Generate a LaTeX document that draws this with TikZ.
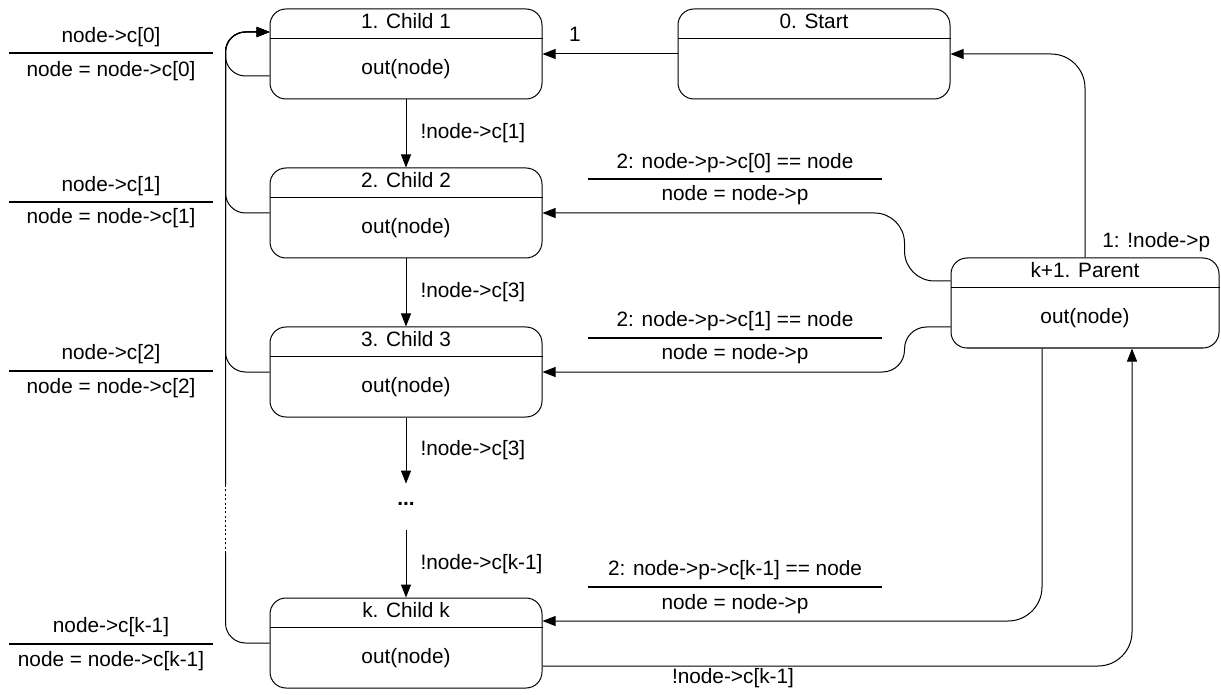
\documentclass[tikz,border=0pt]{standalone}
\usepackage{fontspec}
\setmainfont{Liberation Sans}
\usetikzlibrary{arrows.meta,calc}
\tikzstyle{state}=[rectangle,rounded corners=8pt,draw=black,line width=0.5pt,
  minimum width=136pt,minimum height=45pt,inner sep=0pt]
\tikzstyle{txt}=[inner sep=0pt,text height=7.6pt,text depth=2.3pt]
\tikzstyle{bar}=[line width=0.9pt]
\tikzstyle{trans}=[line width=0.5pt,-{Triangle[length=6.5pt,width=5pt]}]
\tikzstyle{none}=[]

\begin{document}
\begin{tikzpicture}[x=0.5pt, y=-0.5pt, font=\fontsize{10.4pt}{12pt}\selectfont]
    \useasboundingbox (0, 0) rectangle (1221, 695);
    % states
    \node [style=state] (c1) at (406, 54) {};
    \node [style=state] (c2) at (406, 213) {};
    \node [style=state] (c3) at (406, 372) {};
    \node [style=state] (ck) at (406, 643) {};
    \node [style=state] (start) at (814, 54) {};
    \node [style=state, minimum width=134pt] (parent) at (1085, 303) {};
    \node [style=none, inner sep=0pt, minimum height=23pt] (dots) at (406, 507) {\raisebox{3pt}{\textbf{...}}};
    % titles and bodies
    \node [style=txt] (c1t) at ($(c1.north)+(0, 15)$) {1. Child 1};
    \node [style=txt] (c1b) at ($(c1.north)+(0, 61)$) {out(node)};
    \node [style=txt] (c2t) at ($(c2.north)+(0, 15)$) {2. Child 2};
    \node [style=txt] (c2b) at ($(c2.north)+(0, 61)$) {out(node)};
    \node [style=txt] (c3t) at ($(c3.north)+(0, 15)$) {3. Child 3};
    \node [style=txt] (c3b) at ($(c3.north)+(0, 61)$) {out(node)};
    \node [style=txt] (ckt) at ($(ck.north)+(0, 15)$) {k. Child k};
    \node [style=txt] (ckb) at ($(ck.north)+(0, 61)$) {out(node)};
    \node [style=txt] (startt) at ($(start.north)+(0, 15)$) {0. Start};
    \node [style=txt] (parentt) at ($(parent.north)+(0, 15)$) {k+1. Parent};
    \node [style=txt] (parentb) at ($(parent.north)+(0, 61)$) {out(node)};
    \draw [line width=0.5pt] ($(c1.north west)+(0, 30)$) to ($(c1.north east)+(0, 30)$);
    \draw [line width=0.5pt] ($(c2.north west)+(0, 30)$) to ($(c2.north east)+(0, 30)$);
    \draw [line width=0.5pt] ($(c3.north west)+(0, 30)$) to ($(c3.north east)+(0, 30)$);
    \draw [line width=0.5pt] ($(ck.north west)+(0, 30)$) to ($(ck.north east)+(0, 30)$);
    \draw [line width=0.5pt] ($(start.north west)+(0, 30)$) to ($(start.north east)+(0, 30)$);
    \draw [line width=0.5pt] ($(parent.north west)+(0, 30)$) to ($(parent.north east)+(0, 30)$);
    % down the children
    \draw [style=trans] (c1.south) to node [style=txt, right=7pt] (e1) {!node->c[1]} (c2.north);
    \draw [style=trans] (c2.south) to node [style=txt, right=7pt] (e2) {!node->c[3]} (c3.north);
    \draw [style=trans] (c3.south) to node [style=txt, right=7pt] (e3) {!node->c[3]} (dots.north);
    \draw [style=trans] (dots.south) to node [style=txt, right=7pt] (e4) {!node->c[k-1]} (ck.north);
    % start
    \draw [style=trans] (start.west) to node [style=txt, above=3.5pt, pos=0.76] (e0) {1} (c1.east);
    \draw [style=trans, rounded corners=17pt] (parent.north) |- (start.east);
    \node [style=txt, anchor=west] (e5) at (1102, 242) {1: !node->p};
    % back up to the parent
    \draw [style=trans, rounded corners=15pt] ($(parent.west)+(0, -22)$) -- ++(-46, 0) |- (c2.east);
    \draw [style=trans, rounded corners=11pt] ($(parent.west)+(0, 24)$) -- ++(-46, 0) |- (c3.east);
    \draw [style=trans, rounded corners=17pt] ($(parent.south)+(-43, 0)$) |- ($(ck.east)+(0, -22)$);
    \draw [style=trans, rounded corners=17pt] ($(ck.east)+(0, 23)$) -| ($(parent.south)+(47, 0)$);
    \node [style=txt] (e6) at (733, 678) {!node->c[k-1]};
    \node [style=txt] (p0a) at (735, 163) {2: node->p->c[0] == node};
    \draw [style=bar] (588, 179) to (882, 179);
    \node [style=txt] (p0b) at (735, 195) {node = node->p};
    \node [style=txt] (p1a) at (735, 321) {2: node->p->c[1] == node};
    \draw [style=bar] (588, 338) to (882, 338);
    \node [style=txt] (p1b) at (735, 354) {node = node->p};
    \node [style=txt] (pka) at (735, 570) {2: node->p->c[k-1] == node};
    \draw [style=bar] (588, 587) to (882, 587);
    \node [style=txt] (pkb) at (735, 604) {node = node->p};
    % down to a child
    \draw [style=trans, rounded corners=10pt] ($(c1.west)+(0, 22)$) -- ++(-44, 0) |- ($(c1.west)+(0, -22)$);
    \draw [style=trans, rounded corners=10pt] (c2.west) -- ++(-44, 0) |- ($(c1.west)+(0, -22)$);
    \draw [style=trans, rounded corners=10pt] (c3.west) -- ++(-44, 0) |- ($(c1.west)+(0, -22)$);
    \draw [line width=0.5pt, rounded corners=10pt] (ck.west) -- ++(-44, 0) -- ++(0, -90) coordinate (gapa);
    \draw [line width=0.8pt, dash pattern=on 1pt off 1.2pt] (gapa) -- ++(0, -68) coordinate (gapb);
    \draw [style=trans, rounded corners=10pt] (gapb) |- ($(c1.west)+(0, -22)$);
    \node [style=txt] (d0a) at (111, 37) {node->c[0]};
    \draw [style=bar] (9, 53) to (213, 53);
    \node [style=txt] (d0b) at (111, 71) {node = node->c[0]};
    \node [style=txt] (d1a) at (111, 186) {node->c[1]};
    \draw [style=bar] (9, 202) to (213, 202);
    \node [style=txt] (d1b) at (111, 218) {node = node->c[1]};
    \node [style=txt] (d2a) at (111, 354) {node->c[2]};
    \draw [style=bar] (9, 371) to (213, 371);
    \node [style=txt] (d2b) at (111, 388) {node = node->c[2]};
    \node [style=txt] (dka) at (111, 627) {node->c[k-1]};
    \draw [style=bar] (9, 644) to (213, 644);
    \node [style=txt] (dkb) at (111, 661) {node = node->c[k-1]};
\end{tikzpicture}
\end{document}
